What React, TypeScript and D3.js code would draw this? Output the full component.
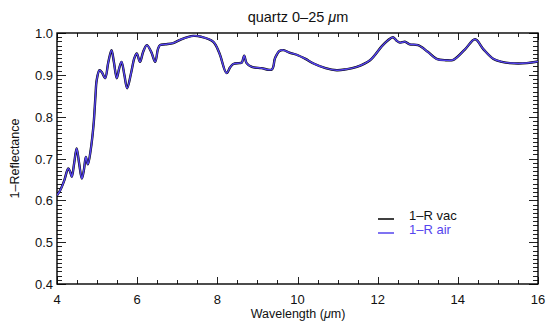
import React from "react";
import * as d3 from "d3";

const wavelength = [
  4.0, 4.08, 4.18, 4.28, 4.33, 4.37, 4.43, 4.49, 4.55, 4.62, 4.67, 4.72, 4.77, 4.84, 4.88, 4.92, 4.96, 4.99,
  5.06, 5.12, 5.2, 5.28, 5.36, 5.42, 5.49, 5.55, 5.61, 5.68, 5.75, 5.85, 5.93, 5.99, 6.07, 6.15, 6.24, 6.35,
  6.45, 6.52, 6.57, 6.7, 6.9, 7.1, 7.4, 7.6, 7.9, 8.05, 8.23, 8.32, 8.4, 8.55, 8.61, 8.67, 8.73, 8.86, 9.1,
  9.36, 9.44, 9.55, 9.65, 9.8, 9.98, 10.2, 10.4, 10.7, 10.98, 11.2, 11.48, 11.81, 12.1, 12.25, 12.38, 12.48,
  12.56, 12.68, 12.8, 13.01, 13.25, 13.47, 13.7, 13.89, 14.18, 14.43, 14.64, 14.89, 15.1, 15.3, 15.72, 16.0,
];

const vacValues = [
  0.612, 0.624, 0.647, 0.676, 0.668, 0.656, 0.69, 0.724, 0.69, 0.652, 0.672, 0.704, 0.686, 0.72, 0.75, 0.79,
  0.85, 0.887, 0.911, 0.906, 0.892, 0.93, 0.959, 0.93, 0.892, 0.915, 0.931, 0.9, 0.868, 0.905, 0.94, 0.951,
  0.931, 0.955, 0.971, 0.955, 0.931, 0.962, 0.971, 0.973, 0.976, 0.985, 0.993, 0.991, 0.979, 0.952, 0.904,
  0.918, 0.926, 0.928, 0.929, 0.946, 0.928, 0.919, 0.916, 0.913, 0.94, 0.957, 0.959, 0.953, 0.948, 0.938,
  0.927, 0.916, 0.911, 0.913, 0.919, 0.935, 0.968, 0.982, 0.99, 0.981, 0.977, 0.979, 0.973, 0.971, 0.955,
  0.938, 0.935, 0.936, 0.961, 0.985, 0.961, 0.938, 0.931, 0.928, 0.928, 0.932,
];

const airValues = [
  0.612, 0.624, 0.647, 0.676, 0.668, 0.656, 0.69, 0.724, 0.69, 0.652, 0.672, 0.704, 0.686, 0.72, 0.75, 0.79,
  0.85, 0.887, 0.911, 0.906, 0.892, 0.93, 0.959, 0.93, 0.892, 0.915, 0.931, 0.9, 0.868, 0.905, 0.94, 0.951,
  0.931, 0.955, 0.971, 0.955, 0.931, 0.962, 0.971, 0.973, 0.976, 0.985, 0.993, 0.991, 0.979, 0.952, 0.904,
  0.918, 0.926, 0.928, 0.929, 0.946, 0.928, 0.919, 0.916, 0.913, 0.94, 0.957, 0.959, 0.953, 0.948, 0.938,
  0.927, 0.916, 0.911, 0.913, 0.919, 0.935, 0.968, 0.982, 0.99, 0.981, 0.977, 0.979, 0.973, 0.971, 0.955,
  0.938, 0.935, 0.936, 0.961, 0.985, 0.961, 0.938, 0.931, 0.928, 0.928, 0.932,
];

const xTicks = [4, 6, 8, 10, 12, 14, 16];
const yTicks = [0.4, 0.5, 0.6, 0.7, 0.8, 0.9, 1.0];
const legendLabels = ["1\u2013R vac", "1\u2013R air"];

const W = 549;
const H = 324;
const left = 57;
const right = 538;
const top = 33;
const bottom = 284;
const BLUE = "#5544ee";
const FONT = "Liberation Sans, Arial, sans-serif";

export default function App() {
  const x = d3.scaleLinear().domain([4, 16]).range([left, right]);
  const y = d3.scaleLinear().domain([0.4, 1.0]).range([bottom, top]);
  const line = d3
    .line<number>()
    .x((_, i) => x(wavelength[i]))
    .y((d) => y(d))
    .curve(d3.curveCatmullRom.alpha(0.5));

  const xMinor = d3.range(4, 16.001, 0.5);
  const yMinor = d3.range(0.4, 1.0001, 0.01);
  const py = (v: number) => Math.round(y(v)) + 0.5;
  const px = (v: number) => Math.round(x(v)) + 0.5;

  return (
    <svg
      width={W}
      height={H}
      style={{ position: "absolute", left: 0, top: 0, background: "#fff" }}
      fontFamily={FONT}
    >
      <defs>
        <clipPath id="plotclip">
          <rect x={left} y={top} width={right - left} height={bottom - top} />
        </clipPath>
      </defs>
      <rect x={0} y={0} width={W} height={H} fill="#fff" />
      <g stroke="#222" strokeWidth={1}>
        {xMinor.map((t, i) => (
          <g key={"xm" + i}>
            <line x1={px(t)} x2={px(t)} y1={bottom} y2={bottom - 4} />
            <line x1={px(t)} x2={px(t)} y1={top} y2={top + 4} />
          </g>
        ))}
        {yMinor.map((t, i) => (
          <g key={"ym" + i}>
            <line x1={left} x2={left + 5} y1={py(t)} y2={py(t)} />
            <line x1={right} x2={right - 5} y1={py(t)} y2={py(t)} />
          </g>
        ))}
        {xTicks.map((t) => (
          <g key={"xM" + t}>
            <line x1={px(t)} x2={px(t)} y1={bottom} y2={bottom - 7} />
            <line x1={px(t)} x2={px(t)} y1={top} y2={top + 7} />
          </g>
        ))}
        {yTicks.map((t) => (
          <g key={"yM" + t}>
            <line x1={left} x2={left + 9} y1={py(t)} y2={py(t)} />
            <line x1={right} x2={right - 9} y1={py(t)} y2={py(t)} />
          </g>
        ))}
      </g>
      <rect
        x={left}
        y={top}
        width={right - left}
        height={bottom - top}
        fill="none"
        stroke="#000"
        strokeWidth={1.4}
      />
      <g clipPath="url(#plotclip)">
        <path d={line(vacValues) || ""} fill="none" stroke="#000" strokeWidth={2.4} />
        <path d={line(airValues) || ""} fill="none" stroke={BLUE} strokeWidth={1.5} />
      </g>
      <g fontSize={13} fill="#111">
        {xTicks.map((t) => (
          <text key={"xl" + t} x={x(t)} y={bottom + 20} textAnchor="middle">
            {t}
          </text>
        ))}
        {yTicks.map((t) => (
          <text key={"yl" + t} x={left - 4} y={y(t) + 5} textAnchor="end">
            {t.toFixed(1)}
          </text>
        ))}
      </g>
      <text x={298} y={22} textAnchor="middle" fontSize={14.5} fill="#111">
        quartz 0{"\u2013"}25 <tspan fontStyle="italic">{"\u03bc"}</tspan>m
      </text>
      <text x={298} y={318} textAnchor="middle" fontSize={12.5} fill="#111">
        Wavelength (<tspan fontStyle="italic">{"\u03bc"}</tspan>m)
      </text>
      <text
        transform={`translate(19,${(top + bottom) / 2}) rotate(-90)`}
        textAnchor="middle"
        fontSize={12.5}
        fill="#111"
      >
        1{"\u2013"}Reflectance
      </text>
      <g fontSize={13}>
        <line x1={378} x2={394} y1={219} y2={219} stroke="#000" strokeWidth={1.5} />
        <text x={409} y={220} fill="#111">
          {legendLabels[0]}
        </text>
        <line x1={378} x2={394} y1={233} y2={233} stroke={BLUE} strokeWidth={1.5} />
        <text x={409} y={234} fill={BLUE}>
          {legendLabels[1]}
        </text>
      </g>
    </svg>
  );
}
